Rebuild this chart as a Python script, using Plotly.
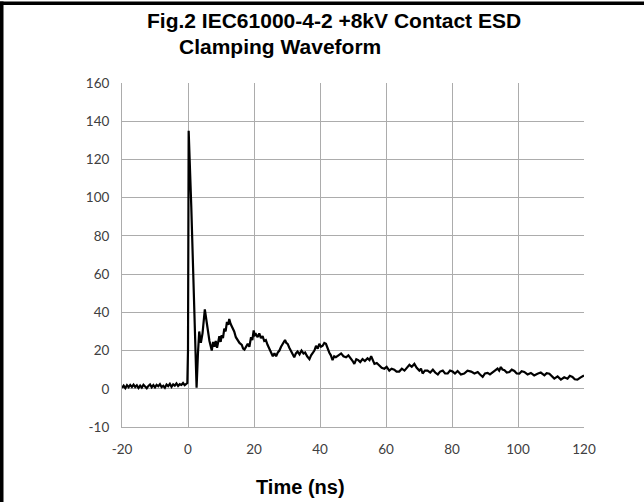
import plotly.graph_objects as go

# ---- data ----
time_ns = [
    -20, -19.5, -19, -18.5, -18, -17.5, -17, -16.5, -16, -15.5, -15, -14.5, -14, -13.5, -13,
    -12.5, -12, -11.5, -11, -10.5, -10, -9.5, -9, -8.5, -8, -7.5, -7, -6.5, -6, -5.5, -5,
    -4.5, -4, -3.5, -3, -2.5, -2, -1.5, -1, -0.5, -0.2,
    0.0, 0.2, 1.0, 2.0, 2.6,
    3.0, 3.4, 3.9, 4.4, 5.1, 5.8, 6.5, 7.2, 7.6, 8.0, 8.4, 8.8, 9.2, 9.5, 9.9, 10.2, 10.6, 11.0,
    11.4, 11.8, 12.2, 12.5, 12.9, 13.2, 13.6, 14.0, 14.5, 15.0, 15.6, 16.3, 16.7, 17.1, 17.6,
    18.1, 18.6, 19.1, 19.5, 19.9, 20.3, 20.6, 21.1, 21.6, 22.1, 22.6, 23.1, 23.6, 24.1, 24.6,
    25.1, 25.7, 26.2, 26.7, 27.2, 27.7, 28.2, 28.7, 29.0, 29.4, 29.8, 30.2, 30.7, 31.2, 31.7,
    32.2, 32.7, 33.2, 33.8, 34.4, 35.0, 35.5, 36.1, 36.8, 37.3, 37.8, 38.3, 38.8, 39.3, 39.8,
    40.3, 40.8, 41.3, 41.8, 42.3, 42.8, 43.3, 43.8, 44.3, 44.8, 45.6, 46.4, 47.1, 47.9, 48.6,
    49.4, 49.9, 50.4, 51.0, 51.6, 52.2, 52.9, 53.6, 54.4, 55.0, 55.5, 56.0, 56.5, 57.2, 58.0,
    58.7, 59.5, 60.2, 61.0, 61.7, 62.5, 63.2, 64.0, 64.8, 65.6, 66.3, 67.1, 67.8, 68.6, 69.3,
    70.1, 70.6, 71.1, 71.8, 72.6, 73.4, 74.2, 74.9, 75.7, 76.4, 77.2, 77.9, 78.7, 79.4, 80.2,
    80.9, 81.7, 82.7, 83.7, 84.7, 85.8, 86.8, 87.8, 88.5, 89.3, 90.0, 90.8, 91.5, 92.3, 93.0,
    93.8, 94.3, 94.8, 95.3, 95.9, 96.6, 97.4, 98.1, 98.9, 99.6, 100.4, 101.1, 101.9, 102.9,
    103.9, 104.9, 105.9, 106.9, 108.0, 108.7, 109.5, 110.2, 111.0, 112.0, 113.0, 114.0, 115.0,
    115.7, 116.5, 117.2, 118.0, 119.0, 120.0,
]
voltage_v = [
    0.5, 1.6, 0.3, 1.9, 0.8, 2.0, 1.0, 2.2, 0.9, 1.8, 0.4, 1.7, 0.6, 2.1, 1.2,
    0.3, 1.5, 2.3, 0.8, 1.9, 0.7, 2.0, 1.3, 2.4, 0.9, 1.6, 0.5, 2.2, 1.4, 2.6, 1.0,
    2.3, 1.6, 2.8, 1.5, 2.4, 2.0, 3.0, 1.9, 2.7, 3.0,
    20.0, 135.0, 95.0, 35.0, 0.5,
    18.0, 30.0, 24.0, 29.0, 41.5, 34.0, 25.0, 20.0, 24.5, 22.0, 25.0, 21.5, 26.0, 27.5, 24.5, 28.0, 26.5, 31.5,
    30.0, 35.0, 33.5, 36.5, 34.0, 33.0, 31.0, 30.0, 27.0, 25.5, 24.0, 23.0, 21.0, 20.5, 22.0,
    23.5, 22.0, 27.0, 25.5, 30.5, 28.0, 28.5, 27.0, 29.0, 26.5, 27.5, 25.0, 25.5, 23.0, 21.0,
    18.5, 17.0, 18.5, 17.0, 19.0, 20.0, 22.0, 23.5, 24.5, 25.5, 24.0, 23.5, 21.5, 20.0, 18.0,
    16.5, 18.5, 19.5, 18.0, 20.0, 18.5, 19.0, 17.0, 15.5, 17.5, 18.5, 20.0, 22.5, 21.0, 23.5,
    22.0, 22.5, 24.0, 23.5, 21.0, 19.0, 17.5, 15.0, 17.0, 16.5, 17.5, 18.5, 17.0, 16.5, 17.5,
    16.0, 14.5, 13.0, 15.5, 15.0, 14.0, 15.5, 14.5, 16.0, 15.0, 17.0, 15.0, 13.0, 13.5, 12.0,
    11.0, 10.5, 11.5, 9.5, 10.5, 10.0, 9.0, 9.0, 10.5, 9.5, 11.0, 12.5, 11.5, 13.0, 11.0,
    9.5, 10.5, 8.0, 9.5, 9.5, 8.5, 10.0, 8.5, 7.5, 9.0, 9.5, 8.0, 8.0, 9.5, 9.0,
    8.0, 9.3, 7.5, 8.0, 9.5, 9.0, 8.0, 8.8, 7.5, 6.2, 8.0, 8.3, 7.5, 8.8, 9.5,
    10.6, 9.5, 11.4, 10.0, 9.7, 8.5, 8.8, 10.0, 9.3, 8.0, 7.9, 9.2, 8.8, 7.5,
    8.3, 7.0, 7.9, 8.5, 7.0, 8.2, 7.9, 6.5, 5.3, 6.5, 4.8, 6.0, 5.3,
    6.8, 6.2, 5.0, 4.8, 6.0, 7.0,
]

x_tick_vals = [-20, 0, 20, 40, 60, 80, 100, 120]
x_tick_text = ["-20", "0", "20", "40", "60", "80", "100", "120"]
y_tick_vals = [-20, 0, 20, 40, 60, 80, 100, 120, 140, 160]
y_tick_text = ["-10", "0", "20", "40", "60", "80", "100", "120", "140", "160"]

title_line1 = "Fig.2 IEC61000-4-2 +8kV Contact ESD"
title_line2 = "Clamping Waveform"
x_title = "Time (ns)"

# ---- layout geometry (pixels) ----
W, H = 644, 502
L, R, T, B = 122, 60, 83, 75
pw, ph = W - L - R, H - T - B


def px2x(px):
    return (px - L) / pw


def py2y(py):
    return (H - B - py) / ph


fig = go.Figure()
fig.add_trace(go.Scatter(
    x=time_ns, y=voltage_v, mode="lines",
    line=dict(color="#000000", width=2.2), showlegend=False,
))

tick_font = dict(family="Lato, Carlito, 'Open Sans', sans-serif", size=13.5, color="#404040")
fig.update_xaxes(
    range=[-20, 120], tickvals=x_tick_vals, ticktext=x_tick_text, showgrid=True,
    gridcolor="#acacac", gridwidth=1, zeroline=False, showline=True, linecolor="#acacac",
    tickfont=tick_font, ticks="", ticklabelstandoff=10,
)
fig.update_yaxes(
    range=[-20, 160], tickvals=y_tick_vals, ticktext=y_tick_text, showgrid=True,
    gridcolor="#acacac", gridwidth=1, zeroline=False, showline=True, linecolor="#acacac",
    tickfont=tick_font, ticks="", ticklabelstandoff=9,
)

title_font = dict(family="Liberation Sans, Arial, sans-serif", size=21, color="#000000")
annotations = [
    dict(text="<b>%s</b>" % title_line1, x=px2x(334), y=py2y(21), xref="paper", yref="paper",
         xanchor="center", yanchor="middle", showarrow=False, font=title_font),
    dict(text="<b>%s</b>" % title_line2, x=px2x(177), y=py2y(46), xref="paper", yref="paper",
         xanchor="left", yanchor="middle", showarrow=False, font=title_font),
    dict(text="<b>%s</b>" % x_title, x=px2x(300), y=py2y(487), xref="paper", yref="paper",
         xanchor="center", yanchor="middle", showarrow=False,
         font=dict(family="Liberation Sans, Arial, sans-serif", size=20, color="#000000")),
]

# frame of the figure cell: thick black rule on the left and top edges
shapes = [
    dict(type="rect", xref="paper", yref="paper", x0=px2x(0), x1=px2x(3.5), y0=py2y(1.5), y1=py2y(H),
         fillcolor="#000000", line=dict(width=0), layer="above"),
    dict(type="rect", xref="paper", yref="paper", x0=px2x(0), x1=px2x(W), y0=py2y(1.5), y1=py2y(5),
         fillcolor="#000000", line=dict(width=0), layer="above"),
]

fig.update_layout(
    width=W, height=H, margin=dict(l=L, r=R, t=T, b=B),
    paper_bgcolor="#ffffff", plot_bgcolor="#ffffff",
    annotations=annotations, shapes=shapes,
)

fig.write_html(
    "out.html",
    config={"displayModeBar": False},
    post_script="document.body.style.margin='0px';document.body.style.overflow='hidden';",
)
